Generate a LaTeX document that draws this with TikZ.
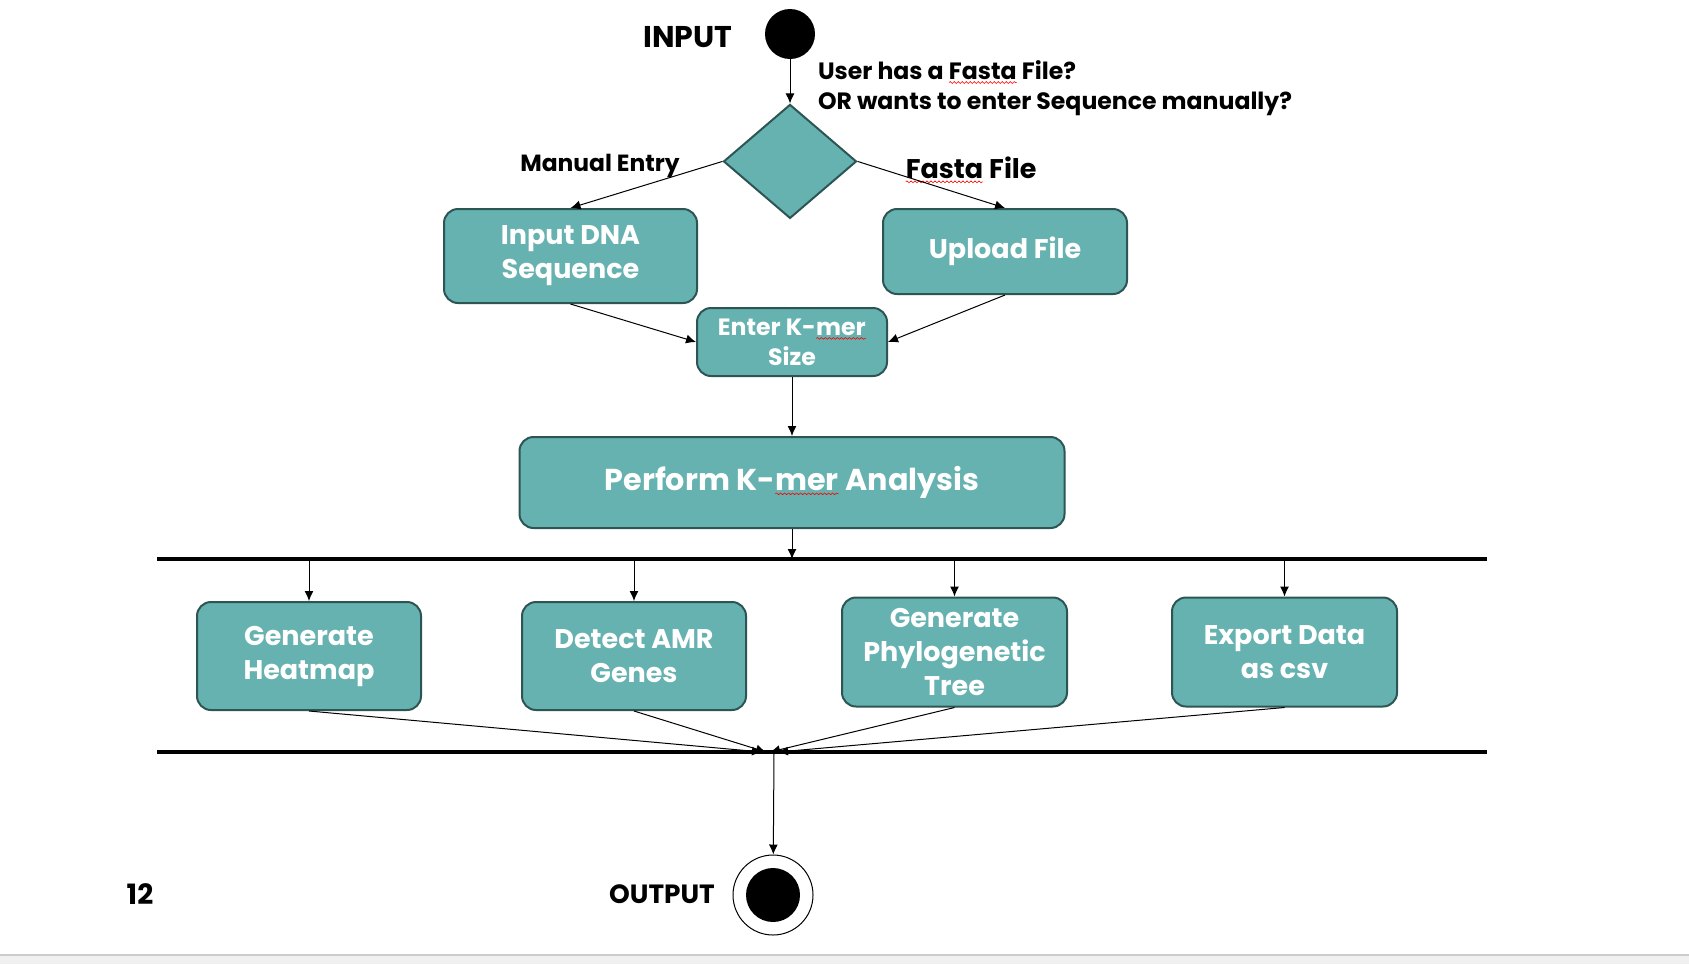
\documentclass[tikz,border=0pt]{standalone}
\usepackage{fontspec}
\setmainfont{Poppins}
\usepackage{tikz}
\usetikzlibrary{shapes.geometric,arrows.meta,positioning,calc,decorations.pathmorphing}

\definecolor{tealfill}{HTML}{66B2B0}
\definecolor{tealedge}{HTML}{2C5553}
\definecolor{stripgray}{HTML}{F0F0F0}

% red spell-check wave under a word
\newcommand{\typo}[1]{\tikz[baseline=(w.base), sharp corners]{\node[shape=rectangle, draw=none, fill=none,
    minimum width=0pt, minimum height=0pt, inner sep=0pt, outer sep=0pt] (w) {#1};
  \draw[red, line width=0.3pt, sharp corners, decorate, decoration={snake, amplitude=0.45pt, segment length=2pt}]
    ([yshift=-1.6pt]w.base west) -- ([yshift=-1.6pt]w.base east);}}

\begin{document}
\begin{tikzpicture}[x=0.5pt, y=-0.5pt,
    actbox/.style={rectangle, rounded corners=7pt, draw=tealedge, line width=1pt, fill=tealfill,
      text=white, font=\bfseries\fontsize{13.5}{17}\selectfont, align=center, inner sep=0pt},
    decision/.style={diamond, draw=tealedge, line width=1pt, fill=tealfill,
      minimum width=66.5pt, minimum height=57pt, inner sep=0pt},
    startdot/.style={circle, fill=black, minimum size=25pt, inner sep=0pt},
    flow/.style={-{Latex[length=5pt,width=4.5pt]}, line width=0.5pt},
    bar/.style={line width=1.6pt},
    lbl/.style={font=\bfseries\fontsize{11.8}{15}\selectfont, align=left}]

    \useasboundingbox (0,0) rectangle (1689,964);
    \fill[white] (0,0) rectangle (1689,964);
    \fill[stripgray] (0,955) rectangle (1689,964);
    \draw[gray!40, line width=0.6pt] (0,955) -- (1689,955);

    % Nodes
    \node[startdot] (start) at (790,34) {};
    \node[decision, below=22pt of start] (dec) {};
    \node[actbox, minimum width=126.5pt, minimum height=47pt] (dna) at (570.5,256) {Input DNA\\Sequence};
    \node[actbox, minimum width=122pt, minimum height=42.5pt] (upload) at (1005,251.5) {Upload File};
    \node[actbox, minimum width=95pt, minimum height=34pt, font=\bfseries\fontsize{11.8}{15}\selectfont] (kmer) at (792,342) {Enter K-\typo{mer}\\Size};
    \node[actbox, below=29.5pt of kmer, minimum width=272.5pt, minimum height=45.5pt, font=\bfseries\fontsize{15.1}{19}\selectfont] (perform) {Perform K-\typo{mer} Analysis};

    \node[actbox, minimum width=112pt, minimum height=54pt] (heat) at (309,656) {Generate\\Heatmap};
    \node[actbox, right=49.5pt of heat, minimum width=112pt, minimum height=54pt] (amr) {Detect AMR\\Genes};
    \node[actbox, minimum width=112.5pt, minimum height=54.5pt] (phylo) at (954.5,652) {Generate\\Phylogenetic\\Tree};
    \node[actbox, right=51.5pt of phylo, minimum width=112.5pt, minimum height=54.5pt] (export) {Export Data\\as csv};

    \node[circle, draw, line width=0.5pt, minimum size=40pt, inner sep=0pt] (stop) at (773,895) {};
    \node[circle, fill=black, minimum size=27pt, inner sep=0pt] (stopdot) at (stop) {};

    % Labels
    \node[font=\bfseries\fontsize{15}{17}\selectfont] (inputlbl) at (688,37) {INPUT};
    \node[lbl, anchor=west] (question) at (811,88) {User has a \typo{Fasta} File?\\OR wants to enter Sequence manually?};
    \node[font=\bfseries\fontsize{11.7}{13}\selectfont] (manual) at (600,166) {Manual Entry};
    \node[font=\bfseries\fontsize{13.5}{15}\selectfont] (fasta) at (971,170) {\typo{Fasta} File};
    \node[font=\bfseries\fontsize{13.2}{15}\selectfont] (outputlbl) at (662,894) {OUTPUT};
    \node[font=\bfseries\fontsize{14}{16}\selectfont] (pagenum) at (140,894) {12};

    % Fork and join bars
    \coordinate (forkL) at (157,559);
    \coordinate (forkR) at (1487,559);
    \coordinate (joinL) at (157,752);
    \coordinate (joinR) at (1487,752);
    \coordinate (join) at (774,752);
    \coordinate (j1) at (762,752);
    \coordinate (j2) at (766,752);
    \coordinate (j3) at (770,752);
    \coordinate (j4) at (778,752);
    \draw[bar] (forkL) -- (forkR);
    \draw[bar] (joinL) -- (joinR);

    % Flows
    \draw[flow] (start) -- (dec);
    \draw[flow] (dec.west) -- (dna.north);
    \draw[flow] (dec.east) -- (upload.north);
    \draw[flow] (dna.south) -- (kmer.west);
    \draw[flow] (upload.south) -- (kmer.east);
    \draw[flow] (kmer) -- (perform);
    \draw[flow] (perform.south) -- (perform.south |- forkL);
    \foreach \b in {heat,amr,phylo,export}
        \draw[flow] (\b.north |- forkL) -- (\b.north);
    \draw[flow] (heat.south) -- (j1);
    \draw[flow] (amr.south) -- (j2);
    \draw[flow] (phylo.south) -- (j3);
    \draw[flow] (export.south) -- (j4);
    \draw[flow] (join) -- (stop);

\end{tikzpicture}
\end{document}
